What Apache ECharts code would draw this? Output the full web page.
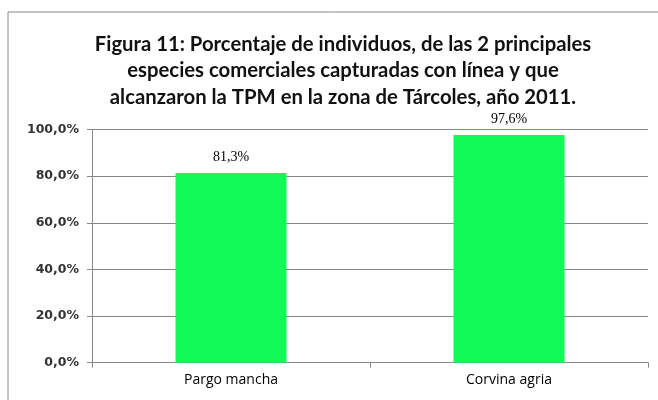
<!DOCTYPE html>
<html><head><meta charset="utf-8">
<script src="https://cdn.jsdelivr.net/npm/echarts@6/dist/echarts.min.js"></script>
<style>html,body{margin:0;padding:0;background:#fff}#c{width:658px;height:400px}</style>
</head><body><div id="c"></div>
<script>
var categories = ['Pargo mancha', 'Corvina agria'];
var values = [81.3, 97.6];
var titleLines = [
  'Figura 11: Porcentaje de individuos, de las 2 principales',
  'especies comerciales capturadas con línea y que',
  'alcanzaron la TPM en la zona de Tárcoles, año 2011.'
];
var chart = echarts.init(document.getElementById('c'), null, {renderer: 'canvas'});
function fmt(v){ return v.toFixed(1).replace('.', ',') + '%'; }
chart.setOption({
  animation: false,
  backgroundColor: '#fff',
  title: {
    text: titleLines.join('\n'),
    left: 338, top: 26, textAlign: 'center',
    textStyle: {fontFamily: 'Lato', fontWeight: 'bold', fontSize: 20.3, lineHeight: 26.5, color: '#111'}
  },
  graphic: [{type: 'rect', shape: {x: 8, y: 12, width: 660, height: 400}, style: {fill: 'none', stroke: '#888', lineWidth: 1}, z: -1}],
  grid: {left: 92, right: 10, top: 129.5, bottom: 37.3},
  xAxis: {
    type: 'category', data: categories,
    axisLine: {lineStyle: {color: '#888'}},
    axisTick: {show: true, length: 5, lineStyle: {color: '#888'}},
    axisLabel: {fontFamily: 'Open Sans', fontSize: 14, color: '#000', margin: 10}
  },
  yAxis: {
    type: 'value', min: 0, max: 100, interval: 20,
    axisLine: {show: true, lineStyle: {color: '#888'}},
    axisTick: {show: true, length: 5, lineStyle: {color: '#888'}},
    splitLine: {lineStyle: {color: '#888'}},
    axisLabel: {fontFamily: 'DejaVu Sans', fontWeight: 'bold', fontSize: 12.5, color: '#333', margin: 13, formatter: function(v){return fmt(v);}}
  },
  series: [{
    type: 'bar', data: values, barWidth: 111,
    itemStyle: {color: '#11fb58'},
    label: {show: true, position: 'top', distance: 9, fontFamily: 'Liberation Serif', fontSize: 14, color: '#000', formatter: function(p){return fmt(p.value);}}
  }]
});
</script></body></html>
